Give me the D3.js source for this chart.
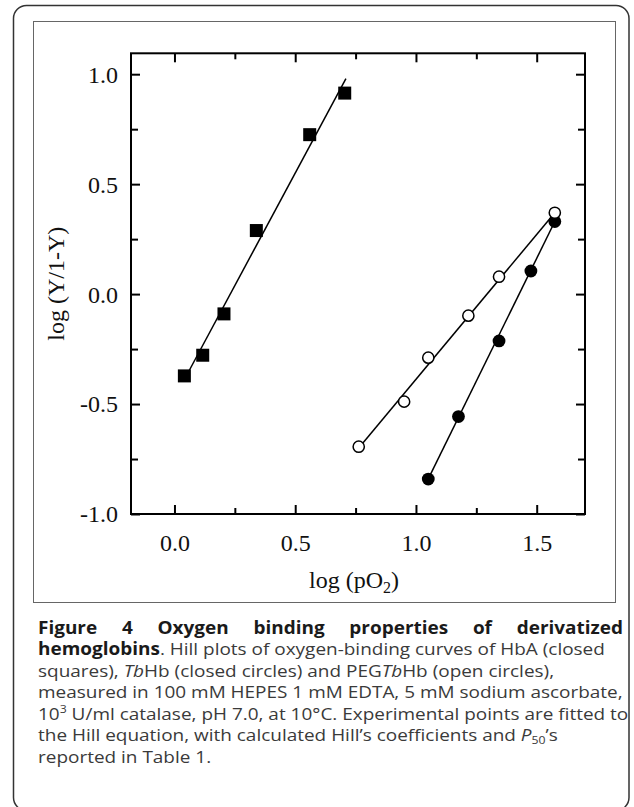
<!DOCTYPE html>
<html><head><meta charset="utf-8">
<script src="https://cdn.jsdelivr.net/npm/d3@7"></script>
<style>
html,body{margin:0;padding:0;background:#fff;}
svg{display:block;}
</style></head>
<body>
<svg id="chart" width="634" height="807"></svg>
<script>
// ---- data ----
const hbaX = [0.041, 0.117, 0.205, 0.339, 0.560, 0.705];
const hbaY = [-0.372, -0.278, -0.090, 0.289, 0.725, 0.914];
const tbX  = [1.051, 1.176, 1.344, 1.476, 1.575];
const tbY  = [-0.841, -0.557, -0.213, 0.105, 0.330];
const pegX = [0.763, 0.951, 1.051, 1.217, 1.344, 1.575];
const pegY = [-0.694, -0.489, -0.289, -0.098, 0.079, 0.370];
const hbaFitX = [0.055, 0.71],  hbaFitY = [-0.36, 0.98];
const tbFitX  = [1.051, 1.575], tbFitY  = [-0.84, 0.33];
const pegFitX = [0.763, 1.575], pegFitY = [-0.70, 0.37];
const xMajor = [0.0, 0.5, 1.0, 1.5];
const xMinor = [0.25, 0.75, 1.25];
const yMajor = [-1.0, -0.5, 0.0, 0.5, 1.0];
const yMinor = [-0.75, -0.25, 0.25, 0.75];
const xTitle = "log (pO";
const yTitle = "log (Y/1-Y)";

const svg = d3.select("#chart");
// outer rounded border
svg.append("rect").attr("x",13.5).attr("y",5.5).attr("width",615.5).attr("height",805)
  .attr("rx",13).attr("fill","none").attr("stroke","#333").attr("stroke-width",1.5);
// inner figure box
svg.append("rect").attr("x",33.5).attr("y",21.5).attr("width",582).attr("height",581)
  .attr("fill","#fff").attr("stroke","#666").attr("stroke-width",1);

const L=131, R=585, T=53.3, B=514;
const x = d3.scaleLinear().domain([-0.18, 1.70]).range([L, R]);
const y = d3.scaleLinear().domain([-1.0, 1.095]).range([B, T]);
const serif = "'Liberation Serif','Times New Roman',serif";
const fmt = d => d3.format(".1f")(d).replace("\u2212","-");

function ticks(g){ g.select(".domain").remove(); g.selectAll("line").attr("stroke","#000").attr("stroke-width",2); }

// bottom
svg.append("g").attr("transform",`translate(0,${B})`)
  .call(d3.axisBottom(x).tickValues(xMajor).tickSize(-9).tickFormat(fmt))
  .call(ticks)
  .call(g=>g.selectAll("text").attr("y",37).attr("dy",0).attr("font-family",serif).attr("font-size",24).attr("fill","#111"));
svg.append("g").attr("transform",`translate(0,${B})`)
  .call(d3.axisBottom(x).tickValues(xMinor).tickSize(-6).tickFormat("")).call(ticks);
// top
svg.append("g").attr("transform",`translate(0,${T})`)
  .call(d3.axisTop(x).tickValues(xMajor).tickSize(-9).tickFormat("")).call(ticks);
svg.append("g").attr("transform",`translate(0,${T})`)
  .call(d3.axisTop(x).tickValues(xMinor).tickSize(-6).tickFormat("")).call(ticks);
// left
svg.append("g").attr("transform",`translate(${L},0)`)
  .call(d3.axisLeft(y).tickValues(yMajor).tickSize(-9).tickPadding(13).tickFormat(fmt))
  .call(ticks)
  .call(g=>g.selectAll("text").attr("font-family",serif).attr("font-size",24).attr("fill","#111").attr("dy","0.33em"));
svg.append("g").attr("transform",`translate(${L},0)`)
  .call(d3.axisLeft(y).tickValues(yMinor).tickSize(-7).tickFormat("")).call(ticks);
// right
svg.append("g").attr("transform",`translate(${R},0)`)
  .call(d3.axisRight(y).tickValues(yMajor).tickSize(-9).tickFormat("")).call(ticks);
svg.append("g").attr("transform",`translate(${R},0)`)
  .call(d3.axisRight(y).tickValues(yMinor).tickSize(-7).tickFormat("")).call(ticks);

// frame
svg.append("rect").attr("x",L).attr("y",T).attr("width",R-L).attr("height",B-T)
  .attr("fill","none").attr("stroke","#000").attr("stroke-width",2);

// fit lines
const line = d3.line().x(d=>x(d[0])).y(d=>y(d[1]));
[[hbaFitX,hbaFitY],[tbFitX,tbFitY],[pegFitX,pegFitY]].forEach(([fx,fy])=>{
  svg.append("path").datum(d3.zip(fx,fy)).attr("d",line)
    .attr("fill","none").attr("stroke","#000").attr("stroke-width",1.5);
});
// markers
svg.append("g").selectAll("rect").data(d3.zip(hbaX,hbaY)).join("rect")
  .attr("x",d=>x(d[0])-6.5).attr("y",d=>y(d[1])-6.5).attr("width",13).attr("height",13).attr("fill","#000");
svg.append("g").selectAll("circle").data(d3.zip(tbX,tbY)).join("circle")
  .attr("cx",d=>x(d[0])).attr("cy",d=>y(d[1])).attr("r",6.4).attr("fill","#000");
svg.append("g").selectAll("circle").data(d3.zip(pegX,pegY)).join("circle")
  .attr("cx",d=>x(d[0])).attr("cy",d=>y(d[1])).attr("r",5.6).attr("fill","#fff").attr("stroke","#000").attr("stroke-width",1.5);

// axis titles
const xt = svg.append("text").attr("x",(L+R)/2-4).attr("y",588).attr("text-anchor","middle")
  .attr("font-family",serif).attr("font-size",24).attr("fill","#111");
xt.append("tspan").text(xTitle);
xt.append("tspan").attr("font-size",16).attr("dy",5).text("2");
xt.append("tspan").attr("dy",-5).text(")");
svg.append("text").attr("transform",`translate(64,${(T+B)/2}) rotate(-90)`).attr("text-anchor","middle")
  .attr("font-family",serif).attr("font-size",24).attr("fill","#111").text(yTitle);

// caption
const sans = "'Open Sans','Noto Sans',sans-serif";
const capX = 38, capW = 585, capFs = 17, lh = 21.5, base0 = 634;
const capG = svg.append("g").attr("font-family",sans).attr("font-size",capFs);
const cap = capG.append("g").attr("fill","#3a3a3a");
function capLine(i){ return cap.append("text").attr("x",0).attr("y",base0+lh*i); }
let t2 = capLine(1);
t2.append("tspan").attr("font-weight","bold").attr("fill","#1a1a1a").text("hemoglobins");
t2.append("tspan").text(". Hill plots of oxygen-binding curves of HbA (closed");
let t3 = capLine(2);
t3.append("tspan").text("squares), ");
t3.append("tspan").attr("font-style","italic").text("Tb");
t3.append("tspan").text("Hb (closed circles) and PEG");
t3.append("tspan").attr("font-style","italic").text("Tb");
t3.append("tspan").text("Hb (open circles),");
const t4 = capLine(3).text("measured in 100 mM HEPES 1 mM EDTA, 5 mM sodium ascorbate,");
let t5 = capLine(4);
t5.append("tspan").text("10");
t5.append("tspan").attr("font-size",11).attr("dy",-7).text("3");
t5.append("tspan").attr("dy",7).text(" U/ml catalase, pH 7.0, at 10°C. Experimental points are fitted to");
let t6 = capLine(5);
t6.append("tspan").text("the Hill equation, with calculated Hill\u2019s coefficients and ");
t6.append("tspan").attr("font-style","italic").text("P");
t6.append("tspan").attr("font-size",11).attr("dy",3).text("50");
t6.append("tspan").attr("dy",-3).text("\u2019s");
capLine(6).text("reported in Table 1.");
// horizontal fit of caption block to measured width
const sx = capW / t4.node().getComputedTextLength();
capG.attr("transform",`translate(${capX},0) scale(${sx},1)`);
// line 1 justified bold
const words1 = ["Figure","4","Oxygen","binding","properties","of","derivatized"];
const g1 = capG.append("g").attr("font-weight","bold").attr("fill","#1a1a1a");
const wt = words1.map(w=>g1.append("text").attr("y",base0).text(w));
const widths = wt.map(t=>t.node().getComputedTextLength());
const gap = (capW/sx - d3.sum(widths))/(words1.length-1);
let cx = 0;
wt.forEach((t,i)=>{ t.attr("x",cx); cx += widths[i]+gap; });
</script>
</body></html>
